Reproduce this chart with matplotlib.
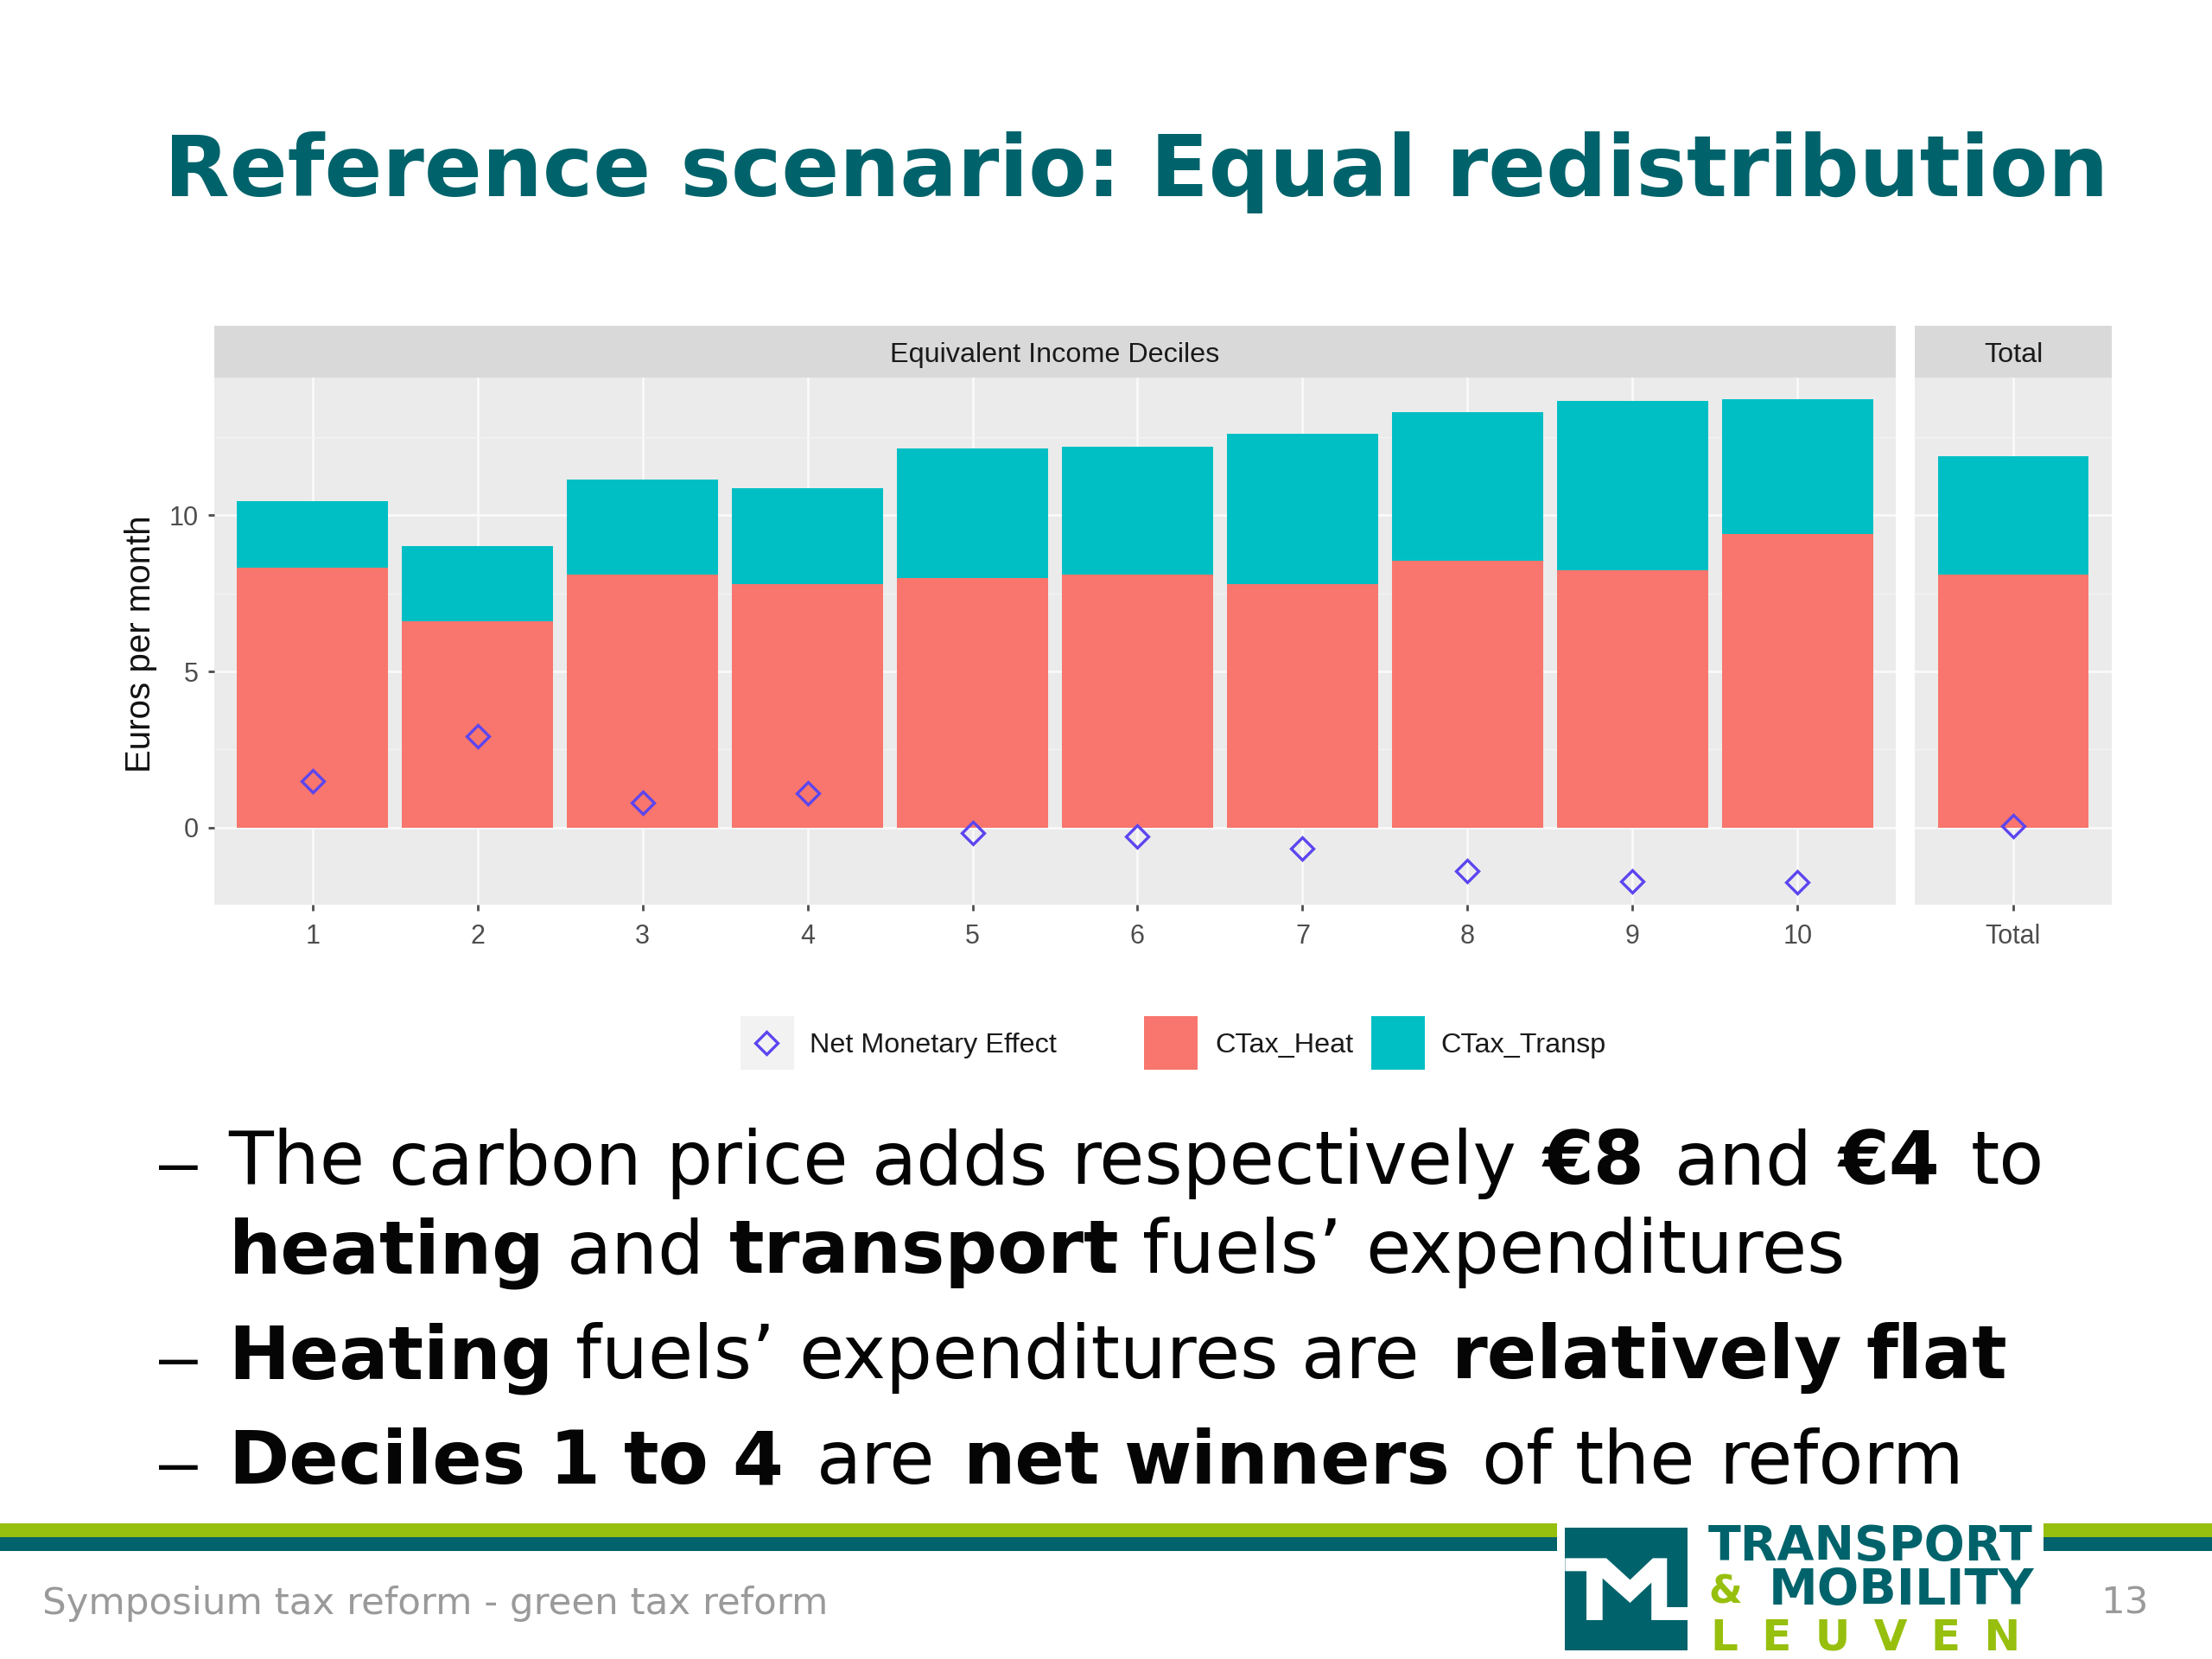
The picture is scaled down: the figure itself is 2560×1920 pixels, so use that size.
import matplotlib
matplotlib.use("Agg")
import matplotlib.pyplot as plt
from matplotlib.patches import Rectangle, Polygon
from matplotlib.lines import Line2D

W, H = 2560, 1920
deciles = [str(i) for i in range(1, 11)]
ctax_heat = [8.33, 6.6, 8.1, 7.8, 8.0, 8.1, 7.8, 8.55, 8.23, 9.41]
ctax_transp = [2.12, 2.4, 3.03, 3.06, 4.13, 4.1, 4.8, 4.75, 5.44, 4.29]
net_effect = [1.49, 2.94, 0.81, 1.09, -0.18, -0.27, -0.68, -1.4, -1.72, -1.74]
total_heat = [8.1]
total_transp = [3.8]
total_net = [0.05]

RED, TEAL, MARK = "#F8766D", "#00BFC4", "#5B45F0"
DARK, GREEN = "#00636B", "#97BF0D"
SANS = "Liberation Sans"
S = 2560 / 1568

fig = plt.figure(figsize=(W / 100, H / 100), dpi=100, facecolor="white")
bg = fig.add_axes([0, 0, 1, 1])
bg.set_xlim(0, W); bg.set_ylim(H, 0); bg.axis("off")
renderer = fig.canvas.get_renderer()


def panel(x0, x1, y0, y1, labels, heat, transp, net, strip, xlim):
    ax = fig.add_axes([x0 / W, 1 - y1 / H, (x1 - x0) / W, (y1 - y0) / H], facecolor="#EBEBEB")
    pos = list(range(1, len(labels) + 1))
    ax.bar(pos, heat, width=0.915, color=RED, zorder=3)
    ax.bar(pos, transp, width=0.915, bottom=heat, color=TEAL, zorder=3)
    ax.plot(pos, net, ls="none", marker="D", ms=13.5, mfc="none", mec=MARK, mew=2.4, zorder=4)
    ax.set_xlim(*xlim)
    ax.set_ylim(-2.465, 14.405)
    ax.set_xticks(pos, labels)
    ax.set_yticks([0, 5, 10])
    ax.set_yticks([2.5, 7.5, 12.5], minor=True)
    ax.grid(True, which="major", color="#FAFAFA", lw=1.9, zorder=1)
    ax.grid(True, which="minor", axis="y", color="#F3F3F3", lw=1.0, zorder=1)
    ax.tick_params(which="minor", length=0)
    ax.tick_params(which="major", length=5, width=2, color="#4D4D4D", labelcolor="#4D4D4D",
                   labelsize=22)
    ax.tick_params(axis="x", pad=11)
    ax.tick_params(axis="y", pad=8)
    for lab in ax.get_xticklabels() + ax.get_yticklabels():
        lab.set_fontfamily(SANS)
    for s in ax.spines.values():
        s.set_visible(False)
    bg.add_patch(Rectangle((x0, 377), x1 - x0, y0 - 377, color="#D9D9D9", lw=0))
    bg.text((x0 + x1) / 2, (377 + y0) / 2 + 4, strip, ha="center", va="center", fontsize=23.3,
            family=SANS, color="#1A1A1A")
    return ax


ax1 = panel(248, 2194, 437, 1047, deciles, ctax_heat, ctax_transp, net_effect,
            "Equivalent Income Deciles", (0.405, 10.595))
ax2 = panel(2216, 2444, 437, 1047, ["Total"], total_heat, total_transp, total_net, "Total", (0.4, 1.6))
ax2.tick_params(axis="y", left=False, labelleft=False)
bg.text(163, 745, "Euros per month", rotation=90, ha="center", va="center", fontsize=29,
        family=SANS, color="#111111")

# legend
bg.add_patch(Rectangle((857, 1176), 62, 62, color="#F2F2F2", lw=0))
bg.add_line(Line2D([887], [1207], ls="none", marker="D", ms=13.5, mfc="none", mec=MARK, mew=2.4))
bg.add_patch(Rectangle((1324, 1176), 62, 62, color=RED, lw=0))
bg.add_patch(Rectangle((1587, 1176), 62, 62, color=TEAL, lw=0))
for x, s in [(937, "Net Monetary Effect"), (1406, "CTax_Heat"), (1667, "CTax_Transp")]:
    bg.text(x, 1210, s, ha="left", va="center", fontsize=23.3, family=SANS, color="#1A1A1A")

# title
bg.text(190, 227, "Reference scenario: Equal redistribution", fontsize=70.9, fontweight="bold",
        color=DARK, family="DejaVu Sans", ha="left", va="baseline")


def width(s, fs, bold):
    t = bg.text(0, 0, s, fontsize=fs, fontweight="bold" if bold else "normal", family="DejaVu Sans")
    w = t.get_window_extent(renderer).width
    t.remove()
    return w


def rich(y, segs, reg=61.2, bld=61.0):
    for x_disp, s, b in segs:
        x = x_disp * S
        fs = bld if b else reg
        for word in s.split():
            bg.text(x, y, word, fontsize=fs, fontweight="bold" if b else "normal",
                    family="DejaVu Sans", color="#050505", ha="left", va="baseline")
            x += width(word, fs, b) + fs * 0.44


for y in (1370, 1595, 1717):
    bg.text(184, y + 2, "–", fontsize=58, family=SANS, color="#050505", ha="left", va="baseline")
rich(1370, [(162, "The carbon price adds respectively", 0), (1094, "€8", 1), (1187, "and", 0),
            (1303, "€4", 1), (1397, "to", 0)])
rich(1473, [(162, "heating", 1), (402, "and", 0), (517, "transport", 1), (810, "fuels’ expenditures", 0)])
rich(1595, [(162, "Heating", 1), (408, "fuels’ expenditures are", 0), (1029, "relatively flat", 1)])
rich(1717, [(162, "Deciles 1 to 4", 1), (579, "are", 0), (683, "net winners", 1), (1050, "of the reform", 0)])

# footer bars
for a, b in [(0, 1802), (2365, 2560)]:
    bg.add_patch(Rectangle((a, 1763), b - a, 16, color=GREEN, lw=0))
    bg.add_patch(Rectangle((a, 1779), b - a, 16, color=DARK, lw=0))
bg.text(49, 1868, "Symposium tax reform - green tax reform", fontsize=31.3, color="#9A9A9A",
        family="DejaVu Sans", ha="left", va="baseline")
bg.text(2431, 1868, "13", fontsize=31.3, color="#9A9A9A", family="DejaVu Sans", ha="left", va="baseline")

# logo
bg.add_patch(Rectangle((1811, 1768), 142, 142, color=DARK, lw=0))
zx = lambda v: 1700 + v / 1.823
zy = lambda v: 1720 + v / 3
m = [(203, 250), (290, 250), (340, 325), (388, 250), (418, 250), (418, 420), (462, 420), (462, 465),
     (385, 465), (385, 335), (340, 405), (282, 320), (282, 465), (248, 465), (248, 295), (203, 295)]
bg.add_patch(Polygon([(zx(a), zy(b)) for a, b in m], color="white", lw=0))
bg.text(1977, 1805, "TRANSPORT", fontsize=40, fontweight="bold", color=DARK, family="DejaVu Sans", va="baseline")
bg.text(1977, 1856, "&", fontsize=32, fontweight="bold", color=GREEN, family="DejaVu Sans", va="baseline")
bg.text(2047, 1857, "MOBILITY", fontsize=41, fontweight="bold", color=DARK, family="DejaVu Sans", va="baseline")
bg.text(1980, 1910, "L \u2009E \u2009U \u2009V \u2009E \u2009N", fontsize=36, fontweight="bold", color=GREEN,
        family="DejaVu Sans", va="baseline")

fig.savefig("out.png", dpi=100, facecolor="white")
